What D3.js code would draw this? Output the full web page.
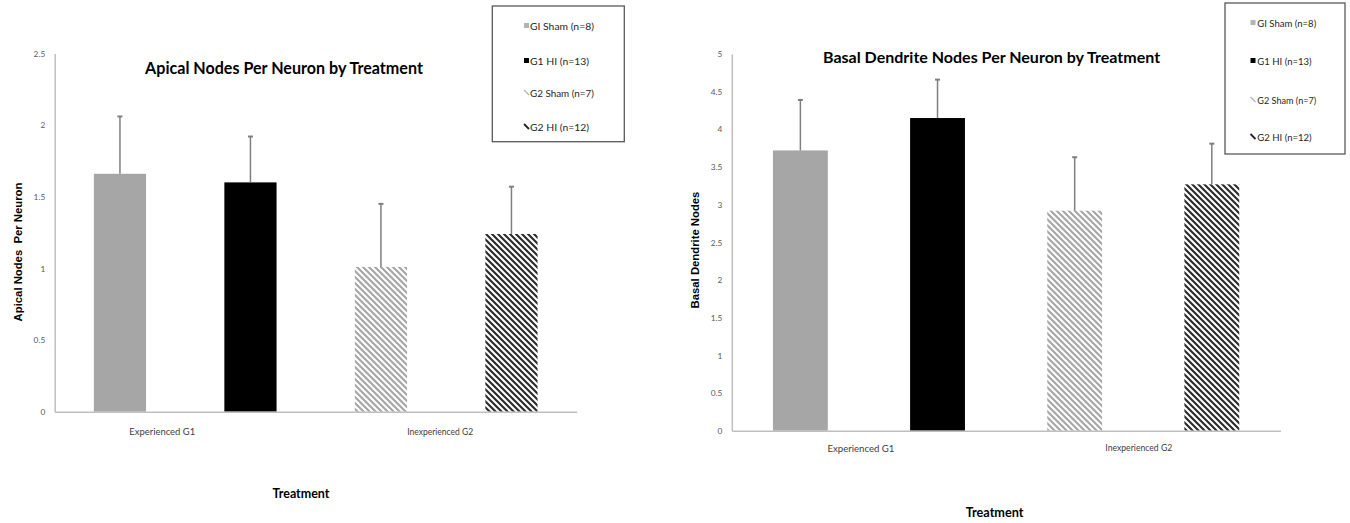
<!DOCTYPE html>
<html><head><meta charset="utf-8">
<script src="https://cdn.jsdelivr.net/npm/d3@7"></script>
<style>body{margin:0;background:#fff;} svg{display:block;}</style>
</head><body>
<svg id="chart" width="1350" height="523"></svg>
<script>
// ---------- data ----------
const categories = ["Experienced G1", "Inexperienced G2"];
const seriesNames = ["GI Sham (n=8)", "G1 HI (n=13)", "G2 Sham (n=7)", "G2 HI (n=12)"];
const seriesCategory = [0, 0, 1, 1];   // category index of each series
const seriesSlot = [0, 1, 0, 1];       // position inside its category
const apicalMeans = [1.66, 1.60, 1.01, 1.24];
const apicalErrors = [0.40, 0.32, 0.44, 0.33];
const basalMeans = [3.72, 4.15, 2.92, 3.27];
const basalErrors = [0.67, 0.51, 0.71, 0.54];
const apicalTicks = [0, 0.5, 1, 1.5, 2, 2.5];
const basalTicks = [0, 0.5, 1, 1.5, 2, 2.5, 3, 3.5, 4, 4.5, 5];
const apicalTitle = "Apical Nodes Per Neuron by Treatment";
const basalTitle = "Basal Dendrite Nodes Per Neuron by Treatment";
const apicalYTitle = "Apical Nodes\u00a0 Per Neuron";
const basalYTitle = "Basal Dendrite Nodes";
const xTitle = "Treatment";

// ---------- styles ----------
const fills = ["#a6a6a6", "#000000", "url(#stripeLight)", "url(#stripeDark)"];
const swatchColors = ["#b3b3b3", "#000000", "#b3b3b3", "#222222"];
const FONT = "Lato, 'Open Sans', sans-serif";

const svg = d3.select("#chart");
const defs = svg.append("defs");
function stripe(id, color) {
  const p = defs.append("pattern").attr("id", id).attr("patternUnits", "userSpaceOnUse")
    .attr("width", 6).attr("height", 6);
  p.append("rect").attr("width", 6).attr("height", 6).attr("fill", "#fff");
  p.append("path").attr("d", "M0,0L6,6M-2,4L2,8M4,-2L8,2")
    .attr("stroke", color).attr("stroke-width", 2.1).attr("fill", "none");
}
stripe("stripeLight", "#a6a6a6");
stripe("stripeDark", "#2b2b2b");

function fit(sel, w) {
  const fs = parseFloat(sel.attr("font-size"));
  const len = sel.node().getComputedTextLength();
  if (len > 0) sel.attr("font-size", fs * w / len);
  return sel;
}

function drawChart(cfg) {
  const g = svg.append("g");
  const x0 = d3.scaleBand().domain(categories.map((d, i) => i)).range([cfg.left, cfg.right]).padding(0);
  const x1 = d3.scaleBand().domain([0, 1]).range([0, x0.bandwidth()]).paddingInner(0.6).paddingOuter(0.3);
  const y = d3.scaleLinear().domain([0, d3.max(cfg.ticks)]).range([cfg.bottom, cfg.top]);

  // y axis
  const ya = g.append("g").attr("transform", `translate(${cfg.left},0)`)
    .call(d3.axisLeft(y).tickValues(cfg.ticks).tickSize(0).tickSizeOuter(0).tickPadding(9.5).tickFormat(String));
  ya.select(".domain").attr("stroke", "#bfbfbf").attr("stroke-width", 1.5);
  ya.selectAll("text").attr("font-family", FONT).attr("font-size", 8.3).attr("fill", "#595959");

  // bars
  const data = cfg.means.map((m, i) => ({ i, m, e: cfg.errors[i], c: seriesCategory[i], s: seriesSlot[i] }));
  g.selectAll("rect.bar").data(data).join("rect").attr("class", "bar")
    .attr("x", d => x0(d.c) + x1(d.s)).attr("width", x1.bandwidth())
    .attr("y", d => y(d.m)).attr("height", d => y(0) - y(d.m))
    .attr("fill", d => fills[d.i]);

  // error bars (upper only)
  const cx = d => x0(d.c) + x1(d.s) + x1.bandwidth() / 2;
  g.selectAll("line.err").data(data).join("line").attr("class", "err")
    .attr("x1", cx).attr("x2", cx).attr("y1", d => y(d.m)).attr("y2", d => y(d.m + d.e))
    .attr("stroke", "#7f7f7f").attr("stroke-width", 1.5);
  g.selectAll("line.cap").data(data).join("line").attr("class", "cap")
    .attr("x1", d => cx(d) - 2.5).attr("x2", d => cx(d) + 2.5)
    .attr("y1", d => y(d.m + d.e)).attr("y2", d => y(d.m + d.e))
    .attr("stroke", "#7f7f7f").attr("stroke-width", 2);

  // x axis
  const xa = g.append("g").attr("transform", `translate(0,${y(0)})`)
    .call(d3.axisBottom(x0).tickSize(0).tickSizeOuter(0).tickPadding(cfg.catPad).tickFormat(i => categories[i]));
  xa.select(".domain").attr("stroke", "#bfbfbf").attr("stroke-width", 1.5);
  xa.selectAll(".tick text").attr("font-family", FONT).attr("font-size", 9).attr("fill", "#404040")
    .attr("dx", (d, i) => cfg.catDx[i])
    .each(function () { fit(d3.select(this), cfg.catW); });

  // titles
  fit(g.append("text").attr("x", cfg.titleX).attr("y", cfg.titleY).attr("text-anchor", "middle")
    .attr("dominant-baseline", "central").attr("font-family", FONT).attr("font-weight", "bold")
    .attr("font-size", 16).attr("fill", "#000").text(cfg.title), cfg.titleW);
  fit(g.append("text").attr("x", cfg.xtX).attr("y", cfg.xtY).attr("text-anchor", "middle")
    .attr("dominant-baseline", "central").attr("font-family", FONT).attr("font-weight", "bold")
    .attr("font-size", 11).attr("fill", "#000").text(xTitle), cfg.xtW);
  g.append("text").attr("transform", `translate(${cfg.ytX},${cfg.ytY}) rotate(-90)`)
    .attr("text-anchor", "middle").attr("dominant-baseline", "central")
    .attr("font-family", "'Liberation Sans', Arial, sans-serif").attr("font-weight", "bold")
    .attr("font-size", 11.3).attr("fill", "#000").text(cfg.yTitle);

  // legend
  const L = cfg.legend;
  g.append("rect").attr("x", L.x).attr("y", L.y).attr("width", L.w).attr("height", L.h)
    .attr("fill", "#fff").attr("stroke", "#595959").attr("stroke-width", 1.3);
  const le = g.selectAll("g.leg").data(seriesNames).join("g").attr("class", "leg")
    .attr("transform", (d, i) => `translate(${L.sx},${L.rows[i]})`);
  le.each(function (d, i) {
    const e = d3.select(this);
    if (i < 2) {
      e.append("rect").attr("x", 0).attr("y", -3).attr("width", 5).attr("height", 5).attr("fill", swatchColors[i]);
    } else {
      e.append("line").attr("x1", 0).attr("y1", -3).attr("x2", 5).attr("y2", 2)
        .attr("stroke", swatchColors[i]).attr("stroke-width", i === 2 ? 1.2 : 1.8);
    }
    fit(e.append("text").attr("x", L.tx - L.sx).attr("y", 0).attr("dominant-baseline", "central")
      .attr("font-family", FONT).attr("font-size", 9).attr("fill", "#262626").text(d), L.tw * d.length / 13);
  });
}

drawChart({
  left: 54.7, right: 576.7, top: 53.4, bottom: 411.7, ticks: apicalTicks,
  means: apicalMeans, errors: apicalErrors, catPad: 17, catDx: [-23, -6], catW: 66,
  title: apicalTitle, titleX: 284, titleY: 67, titleW: 278,
  xtX: 301, xtY: 493, xtW: 57,
  yTitle: apicalYTitle, ytX: 17.5, ytY: 252,
  legend: { x: 492.3, y: 6, w: 132, h: 135.7, sx: 524, tx: 530, tw: 64, rows: [26, 61, 93, 127] }
});
drawChart({
  left: 731.8, right: 1280.4, top: 54, bottom: 430.7, ticks: basalTicks,
  means: basalMeans, errors: basalErrors, catPad: 14, catDx: [-8, -4.5], catW: 67,
  title: basalTitle, titleX: 991.6, titleY: 56, titleW: 337.5,
  xtX: 994.6, xtY: 511.5, xtW: 58,
  yTitle: basalYTitle, ytX: 695, ytY: 250,
  legend: { x: 1225, y: 3, w: 120, h: 151, sx: 1250.5, tx: 1257.3, tw: 59, rows: [23, 61, 100, 137] }
});
</script>
</body></html>
